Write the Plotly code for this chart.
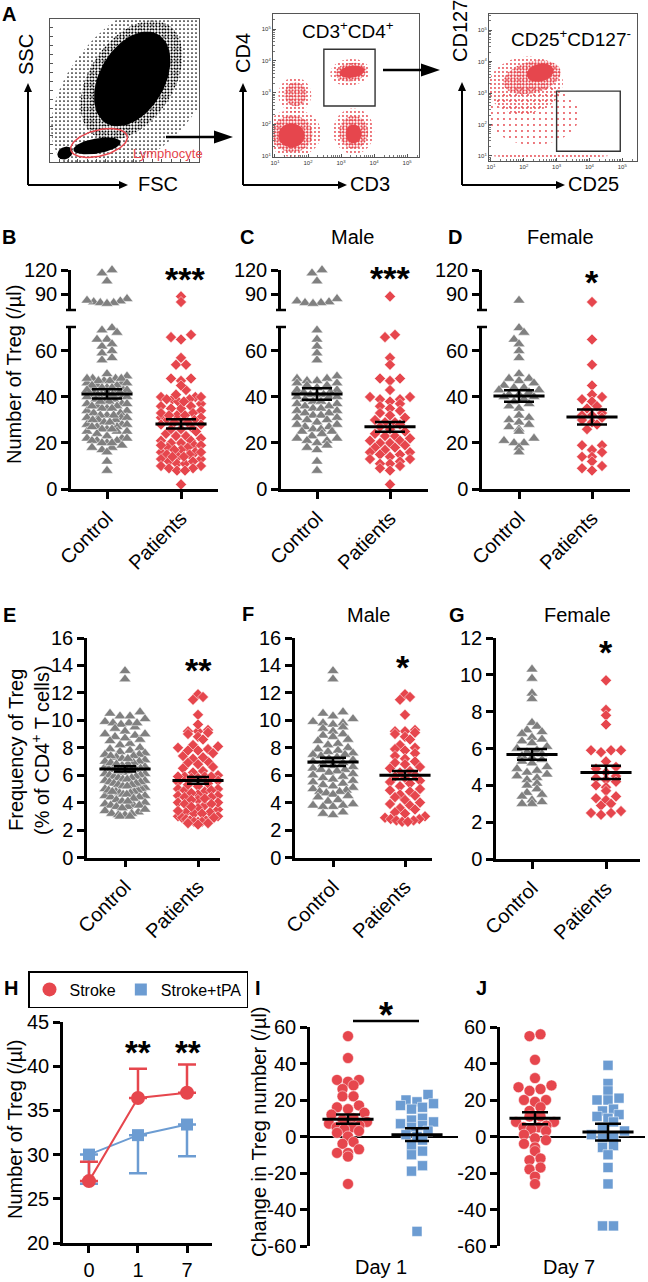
import math
import plotly.graph_objects as go

W, H = 648, 1282
FONT = "Liberation Sans, Arial, Helvetica, sans-serif"
RED = "#E6464D"
GRAY = "#808080"
BLUE = "#6C9CD2"

# ------------------------------------------------------------------ data
groups = ["Control", "Patients"]

# Number of Treg (/µl) - male
treg_male_control = [120, 116, 106, 84, 81, 80, 79, 79, 78,
                     69, 65, 62, 59, 56,
                     49, 48, 48, 47, 47, 46, 46, 45, 45, 44,
                     43, 43, 42, 42, 41, 41, 41, 40, 40, 40, 39,
                     38, 38, 37, 37, 36, 36, 35, 35, 34, 34,
                     33, 33, 32, 32, 31, 31, 30, 30, 29,
                     28, 28, 27, 27, 26, 26, 25, 25, 24,
                     23, 22, 22, 21, 21, 20, 19, 18, 17, 12, 8]
treg_male_patients = [87, 67, 66, 57, 54, 48, 48, 47, 43,
                      40, 40, 39, 39, 38, 37, 36, 35, 34, 33,
                      32, 31, 30, 29, 29, 28, 27, 26, 25, 24,
                      23, 23, 22, 21, 21, 20, 20, 19, 18, 18,
                      17, 16, 16, 15, 15, 14, 13, 13, 12, 11, 11, 10, 9, 8, 2]
# Number of Treg (/µl) - female
treg_female_control = [82, 70, 68, 65, 63, 60, 57, 50, 48, 48, 47, 46, 45, 44, 44,
                       43, 43, 42, 41, 41, 40, 40, 39, 38, 37, 36, 35, 32, 31, 30,
                       29, 28, 27, 26, 25, 22, 21, 20, 20, 18, 16]
treg_female_patients = [80, 65, 54, 45, 41, 40, 39, 38, 36, 35, 33, 32, 32, 31,
                        30, 29, 28, 26, 19, 19, 17, 16, 14, 14, 12, 10, 9, 8]
treg_all_control = treg_male_control + treg_female_control
treg_all_patients = treg_male_patients + treg_female_patients

treg_all_mean, treg_all_sem = [41.3, 28.3], [2.0, 2.0]
treg_male_mean, treg_male_sem = [41.3, 27.0], [2.5, 2.1]
treg_female_mean, treg_female_sem = [40.4, 31.3], [2.5, 3.3]

# Frequency of Treg (% of CD4+ T cells)
freq_male_control = [13.6, 13.0,
                     10.6, 10.5, 10.3, 10.1, 9.9, 9.8, 9.8, 9.7, 9.5, 9.4,
                     9.2, 9.0, 8.9, 8.8, 8.6, 8.5, 8.3, 8.2, 8.0, 7.9,
                     7.8, 7.7, 7.6, 7.5, 7.5, 7.4, 7.3, 7.2, 7.1, 7.0,
                     6.9, 6.8, 6.7, 6.6, 6.5, 6.4, 6.4, 6.3, 6.2, 6.1,
                     6.0, 5.9, 5.8, 5.7, 5.6, 5.5, 5.4, 5.3, 5.2, 5.1,
                     5.0, 4.9, 4.8, 4.8, 4.7, 4.6, 4.5, 4.4, 4.2, 4.1,
                     3.9, 3.8, 3.8, 3.7, 3.7, 3.3, 3.2, 3.1]
freq_male_patients = [11.9, 11.7, 11.5, 10.4,
                      9.3, 9.2, 9.2, 9.1, 9.0, 8.8,
                      8.6, 8.2, 8.0, 7.9, 7.8, 7.6, 7.4, 7.2, 7.0, 6.9,
                      6.8, 6.6, 6.5, 6.3, 6.2, 6.0, 5.9, 5.8, 5.6, 5.5,
                      5.4, 5.2, 5.0, 4.9, 4.8, 4.6, 4.5, 4.4, 4.2, 4.0,
                      3.9, 3.8, 3.6, 3.5, 3.3, 3.2, 3.0, 2.9, 2.8, 2.8, 2.7, 2.7, 2.6, 2.6]
freq_female_control = [10.3, 9.8, 9.0, 8.7, 7.4, 7.2, 7.0, 6.9, 6.8, 6.6, 6.5, 6.4, 6.3, 6.1,
                       6.0, 5.9, 5.8, 5.7, 5.6, 5.5, 5.4, 5.3, 5.2, 5.0, 4.9, 4.8, 4.7, 4.6,
                       4.5, 4.4, 4.3, 4.1, 4.0, 3.8, 3.6, 3.5, 3.4, 3.2, 3.1, 3.0, 3.0]
freq_female_patients = [9.7, 8.1, 7.8, 7.3, 5.9, 5.9, 5.9, 5.8, 5.3, 5.0, 4.9, 4.7, 4.5, 4.4,
                        4.3, 4.2, 4.0, 3.9, 3.7, 3.4, 3.3, 3.2, 3.0, 2.9, 2.6, 2.5, 2.5, 2.4]
freq_all_control = freq_male_control + freq_female_control
freq_all_patients = freq_male_patients + freq_female_patients

freq_all_mean, freq_all_sem = [6.46, 5.62], [0.2, 0.25]
freq_male_mean, freq_male_sem = [6.97, 6.0], [0.3, 0.3]
freq_female_mean, freq_female_sem = [5.68, 4.7], [0.29, 0.36]

# H: time course
days = ["0", "1", "7"]
stroke_mean = [27.0, 36.4, 37.0]
stroke_sem = [2.2, 3.3, 3.2]
tpa_mean = [30.0, 32.2, 33.4]
tpa_sem = [3.3, 4.3, 3.6]

# I, J: change in Treg number
day1_stroke = [55, 43, 31, 31, 30, 28, 26, 22, 22, 17, 16, 15, 13, 12, 10, 9, 8, 7, 6,
               5, 5, 4, 3, 2, 0, -3, -4, -7, -9, -9, -11, -26]
day1_tpa = [23, 20, 19, 18, 17, 16, 15, 10, 9, 8, 7, 6, 5, 3, 1, 0, -2, -5, -8, -10,
            -16, -19, -52]
day7_stroke = [56, 55, 42, 32, 28, 27, 26, 25, 20, 20, 19, 16, 14, 11, 11, 8, 8, 6, 5, 5,
               4, 3, 1, -1, -2, -4, -6, -8, -12, -13, -17, -18, -22, -26]
day7_tpa = [39, 29, 25, 21, 20, 20, 15, 14, 12, 11, 10, 8, 5, 3, 1, 0, -1, -5, -6, -10,
            -17, -26, -49, -49]
day1_mean, day1_sem = [9.5, 1.0], [2.5, 3.5]
day7_mean, day7_sem = [10.0, 2.4], [3.3, 4.6]

# A: gating populations (centre x, centre y, semi-axis a, semi-axis b, angle, density)
fsc_ssc_pops = [
    (590, 545, 740, 440, 50, "sparse"),
    (560, 585, 470, 290, 58, "medium"),
    (565, 595, 365, 225, 62, "dense"),
    (323, 115, 165, 54, 10, "dense"),
    (103, 64, 55, 43, 30, "dense"),
]
lymph_gate = (337, 136, 200, 93, 15)
cd3_cd4_pops = [
    (3.27, 3.64, 0.60, 0.42, 8, "sparse"),
    (3.30, 3.65, 0.48, 0.29, 8, "medium"),
    (3.33, 3.66, 0.38, 0.19, 8, "dense"),
    (1.60, 2.93, 0.50, 0.55, 0, "sparse"),
    (1.62, 2.95, 0.34, 0.38, 0, "medium"),
    (1.55, 1.72, 0.85, 0.75, 0, "sparse"),
    (1.52, 1.70, 0.62, 0.58, 0, "medium"),
    (1.50, 1.65, 0.40, 0.38, 0, "dense"),
    (3.38, 1.78, 0.62, 0.72, 0, "sparse"),
    (3.38, 1.75, 0.44, 0.52, 0, "medium"),
    (3.38, 1.70, 0.24, 0.30, 0, "dense"),
]
cd3_cd4_gate = (2.48, 4.03, 2.58, 4.37)
cd25_cd127_pops = [
    (2.30, 2.30, 1.40, 0.95, 0, "vsparse"),
    (2.80, 1.00, 1.80, 0.06, 0, "sparse"),
    (2.05, 3.25, 1.15, 0.90, 10, "sparse"),
    (2.25, 3.50, 0.90, 0.50, 15, "medium"),
    (2.50, 3.65, 0.42, 0.28, 15, "dense"),
]
cd25_cd127_gate = (3.0, 4.94, 1.15, 3.06)

# ------------------------------------------------------------------ helpers
traces, annotations, shapes = [], [], []
layout = dict(width=W, height=H, margin=dict(l=0, r=0, t=0, b=0), template="none",
              paper_bgcolor="white", plot_bgcolor="rgba(0,0,0,0)",
              font=dict(family=FONT, size=20, color="black"), showlegend=True)
axis_ids = []


def add_axes(xd, yd, xr, yr, xkw=None, ykw=None):
    k = len(axis_ids) + 1
    s = "" if k == 1 else str(k)
    base = dict(showgrid=False, zeroline=False, showline=False, ticks="",
                showticklabels=False, fixedrange=True, automargin=False)
    xa = dict(base, domain=[xd[0] / W, xd[1] / W], range=list(xr), anchor="y" + s)
    ya = dict(base, domain=[1 - yd[1] / H, 1 - yd[0] / H], range=list(yr), anchor="x" + s)
    if xkw:
        xa.update(xkw)
    if ykw:
        ya.update(ykw)
    layout["xaxis" + s] = xa
    layout["yaxis" + s] = ya
    axis_ids.append(k)
    return "x" + s, "y" + s


LINE_AX = dict(showline=True, linecolor="black", linewidth=2.5, ticks="outside", ticklen=7,
               tickwidth=2.5, tickcolor="black", showticklabels=True,
               tickfont=dict(size=20, color="black", family=FONT))


def text(x, y, s, size=20, bold=False, color="black", angle=0, xanchor="center"):
    annotations.append(dict(x=x / W, y=1 - y / H, xref="paper", yref="paper",
                            text=("<b>%s</b>" % s) if bold else s, showarrow=False,
                            font=dict(size=size, color=color, family=FONT),
                            textangle=angle, xanchor=xanchor, yanchor="middle"))


def stars(x, y, s, size=34):
    text(x, y + 0.2 * size, s, size=size, bold=True)


def pline(x0, y0, x1, y1, w=2.5, color="black"):
    shapes.append(dict(type="line", xref="paper", yref="paper", x0=x0 / W, y0=1 - y0 / H,
                       x1=x1 / W, y1=1 - y1 / H, line=dict(color=color, width=w)))


def arrow(x0, y0, x1, y1, lw, hl, hw):
    L = math.hypot(x1 - x0, y1 - y0)
    ux, uy = (x1 - x0) / L, (y1 - y0) / L
    bx, by = x1 - ux * hl, y1 - uy * hl
    pline(x0, y0, bx + ux, by + uy, lw)
    nx, ny = -uy, ux
    pts = [(x1, y1), (bx + nx * hw / 2, by + ny * hw / 2), (bx - nx * hw / 2, by - ny * hw / 2)]
    path = "M " + " L ".join("%.5f,%.5f" % (px / W, 1 - py / H) for px, py in pts) + " Z"
    shapes.append(dict(type="path", xref="paper", yref="paper", path=path,
                       fillcolor="black", line=dict(width=0)))


def ellipse_xy(cx, cy, a, b, ang, n=90):
    t = math.radians(ang)
    xs, ys = [], []
    for i in range(n + 1):
        u = 2 * math.pi * i / n
        ex, ey = a * math.cos(u), b * math.sin(u)
        xs.append(cx + ex * math.cos(t) - ey * math.sin(t))
        ys.append(cy + ex * math.sin(t) + ey * math.cos(t))
    return xs, ys


DENS_BLACK = {"vsparse": (6, 0.07), "sparse": (4, 0.14), "medium": (3, 0.32)}
DENS_RED = {"vsparse": (6, 0.08), "sparse": (4, 0.18), "medium": (3, 0.45)}


def population(p, color, xa, ya, dens):
    cx, cy, a, b, ang, lev = p
    xs, ys = ellipse_xy(cx, cy, a, b, ang)
    kw = dict(x=xs, y=ys, xaxis=xa, yaxis=ya, mode="lines", fill="toself",
              line=dict(width=0), showlegend=False, hoverinfo="skip")
    if lev == "dense":
        kw["fillcolor"] = color
    else:
        sz, sol = dens[lev]
        kw["fillcolor"] = "rgba(0,0,0,0)"
        kw["fillpattern"] = dict(shape=".", fgcolor=color, bgcolor="rgba(0,0,0,0)",
                                 size=sz, solidity=sol)
    traces.append(go.Scatter(**kw))


def swarm(values, to_px, row_h, step, max_half):
    order = sorted(range(len(values)), key=lambda i: values[i])
    rows = {}
    for i in order:
        rows.setdefault(int(round(to_px(values[i]) / row_h)), []).append(i)
    offs = [0.0] * len(values)
    for idxs in rows.values():
        n = len(idxs)
        sp = step if n <= 1 or (n - 1) * step <= 2 * max_half else 2 * max_half / (n - 1)
        slots = [(k - (n - 1) / 2) * sp for k in range(n)]
        slots.sort(key=lambda s: (abs(s), s))
        for k, i in enumerate(idxs):
            offs[i] = slots[k]
    return offs


def dot_panel(xl, xr_px, c0, c1, segs, ctrl, pat, mean, sem, syms, sizes, colors,
              show_x=True, zero=False, row_h=7, step=10, max_half=20, cap=13):
    ppx = float(c1 - c0)
    xrange = [(xl - c0) / ppx, (xr_px - c0) / ppx]
    seg_axes = []
    for j, sg in enumerate(segs):
        xkw = None
        if j == 0 and show_x:
            xkw = dict(LINE_AX, tickvals=[0, 1], ticktext=groups, tickangle=-45)
        ykw = dict(LINE_AX, tickvals=sg["tv"], ticktext=[str(v) for v in sg["tv"]])
        if zero:
            ykw.update(zeroline=True, zerolinecolor="black", zerolinewidth=2.2)
        seg_axes.append(add_axes((xl, xr_px), (sg["top"], sg["bot"]), xrange, sg["rng"], xkw, ykw))

    def seg_of(v):
        for j, sg in enumerate(segs):
            if v <= sg["rng"][1]:
                return j
        return len(segs) - 1

    def to_px(v):
        sg = segs[seg_of(v)]
        lo, hi = sg["rng"]
        return sg["bot"] - (v - lo) / (hi - lo) * (sg["bot"] - sg["top"])

    for gi, vals in enumerate([ctrl, pat]):
        offs = swarm(vals, to_px, row_h, step, max_half)
        for j in range(len(segs)):
            idx = [i for i, v in enumerate(vals) if seg_of(v) == j]
            if not idx:
                continue
            traces.append(go.Scatter(
                x=[gi + offs[i] / ppx for i in idx], y=[vals[i] for i in idx],
                xaxis=seg_axes[j][0], yaxis=seg_axes[j][1], mode="markers",
                marker=dict(symbol=syms[gi], size=sizes[gi], color=colors[gi],
                            line=dict(width=0.5, color="white")),
                cliponaxis=False, showlegend=False, hoverinfo="skip"))
    xa, ya = seg_axes[0]
    traces.append(go.Scatter(
        x=[0, 1], y=mean, xaxis=xa, yaxis=ya, mode="markers",
        marker=dict(symbol="line-ew", size=36.5, color="black", line=dict(width=3, color="black")),
        error_y=dict(type="data", array=sem, visible=True, color="black", thickness=2.5, width=cap),
        cliponaxis=False, showlegend=False, hoverinfo="skip"))
    return seg_axes


# ------------------------------------------------------------------ panel A
BOX = dict(showline=True, mirror=True, linecolor="#555", linewidth=1, ticks="inside",
           ticklen=3, tickwidth=1, tickcolor="#555")
xa, ya = add_axes((50, 199), (19, 162), [0, 1024], [0, 1024],
                  dict(BOX, dtick=64, tick0=0), dict(BOX, dtick=64, tick0=0))
for p in fsc_ssc_pops:
    population(p, "black", xa, ya, DENS_BLACK)
gx, gy = ellipse_xy(*lymph_gate)
traces.append(go.Scatter(x=gx, y=gy, xaxis=xa, yaxis=ya, mode="lines",
                         line=dict(color=RED, width=1.5), showlegend=False, hoverinfo="skip"))


def log_axis(lo, hi):
    majors = [v for v in range(1, 6) if lo <= v <= hi]
    minors = [n + math.log10(k) for n in range(0, 6) for k in range(2, 10)
              if lo <= n + math.log10(k) <= hi]
    return dict(BOX, tickvals=majors, ticktext=["10<sup>%d</sup>" % v for v in majors],
                showticklabels=True, tickfont=dict(size=6, color="#333"),
                minor=dict(tickvals=minors, ticks="inside", ticklen=2, tickcolor="#777",
                           tickwidth=0.8))


xa, ya = add_axes((273, 419), (14, 157), [0.94, 5.36], [0.97, 5.48],
                  log_axis(0.94, 5.36), log_axis(0.97, 5.48))
for p in cd3_cd4_pops:
    population(p, RED, xa, ya, DENS_RED)
g = cd3_cd4_gate
shapes.append(dict(type="rect", xref=xa, yref=ya, x0=g[0], x1=g[1], y0=g[2], y1=g[3],
                   line=dict(color="#333", width=1.4)))

xa, ya = add_axes((489, 637), (14, 161), [0.94, 5.45], [0.84, 5.51],
                  log_axis(0.94, 5.45), log_axis(0.84, 5.51))
for p in cd25_cd127_pops:
    population(p, RED, xa, ya, DENS_RED)
g = cd25_cd127_gate
shapes.append(dict(type="rect", xref=xa, yref=ya, x0=g[0], x1=g[1], y0=g[2], y1=g[3],
                   line=dict(color="#333", width=1.4)))

arrow(166, 137, 233, 137, 2.5, 19, 13)
arrow(383, 70, 440, 70, 2.5, 19, 13)
for (vx, tipy, tipx) in [(28, 83, 128), (243, 83, 347), (462, 82, 565)]:
    arrow(vx, 185, vx, tipy, 2, 9, 8)
    arrow(vx, 185, tipx, 185, 2, 9, 8)

text(9, 14, "A", 20, bold=True)
text(26, 55, "SSC", 20, angle=-90)
text(158, 184, "FSC", 20)
text(131, 153, "Lymphocyte", 13, color=RED, xanchor="left")
text(243, 53, "CD4", 20, angle=-90)
text(370, 184, "CD3", 20)
text(348, 30, "CD3<sup>+</sup>CD4<sup>+</sup>", 19)
text(460, 31, "CD127", 20, angle=-90)
text(593, 184, "CD25", 20)
text(571, 38, "CD25<sup>+</sup>CD127<sup>-</sup>", 19)

# ------------------------------------------------------------------ panels B-D
SYMS = ["triangle-up", "diamond"]
SIZES = [10.5, 8.5]
COLS = [GRAY, RED]


def broken(top_u, bot_u, top_l, bot_l):
    return [dict(top=top_l, bot=bot_l, rng=(0, 70.4), tv=[0, 20, 40, 60]),
            dict(top=top_u, bot=bot_u, rng=(70, 120), tv=[90, 120])]


for (xl, xr_px, c0, c1, ctrl, pat, mean, sem) in [
        (71, 218, 107, 181, treg_all_control, treg_all_patients, treg_all_mean, treg_all_sem),
        (281, 428, 317, 390, treg_male_control, treg_male_patients, treg_male_mean, treg_male_sem),
        (482, 630, 519, 592, treg_female_control, treg_female_patients, treg_female_mean,
         treg_female_sem)]:
    dot_panel(xl, xr_px, c0, c1, broken(270, 310, 327, 489), ctrl, pat, mean, sem,
              SYMS, SIZES, COLS, cap=15)
    pline(xl - 5, 310, xl + 5, 310, 2.5)
    pline(xl - 5, 327, xl + 5, 327, 2.5)

text(9, 237, "B", 20, bold=True)
text(247, 237, "C", 20, bold=True)
text(352, 237, "Male", 20)
text(455, 237, "D", 20, bold=True)
text(560, 237, "Female", 20)
stars(185, 272, "***")
stars(390, 271, "***")
stars(592, 275, "*")
text(14, 375, "Number of Treg (/µl)", 20, angle=-90)

# ------------------------------------------------------------------ panels E-G
seg16 = [dict(top=638, bot=857.5, rng=(0, 16), tv=list(range(0, 17, 2)))]
seg12 = [dict(top=638, bot=859, rng=(0, 12), tv=list(range(0, 13, 2)))]
dot_panel(87, 220, 125, 198, seg16, freq_all_control, freq_all_patients,
          freq_all_mean, freq_all_sem, SYMS, SIZES, COLS, cap=11)
dot_panel(295, 432, 333, 405, seg16, freq_male_control, freq_male_patients,
          freq_male_mean, freq_male_sem, SYMS, SIZES, COLS, cap=13)
dot_panel(496, 640, 532, 606, seg12, freq_female_control, freq_female_patients,
          freq_female_mean, freq_female_sem, SYMS, SIZES, COLS, cap=15)

text(9, 615, "E", 20, bold=True)
text(248, 614, "F", 20, bold=True)
text(368, 615, "Male", 20)
text(457, 615, "G", 20, bold=True)
text(577, 615, "Female", 20)
stars(198, 663, "**")
stars(403, 660, "*")
stars(606, 645, "*")
text(16, 750, "Frequency of Treg", 20, angle=-90)
text(40, 750, "(% of CD4<sup>+</sup> T cells)", 20, angle=-90)

# ------------------------------------------------------------------ panel H
xa, ya = add_axes((63, 212), (1022, 1243), [-0.53, 2.51], [20, 45],
                  dict(LINE_AX, type="category", categoryorder="array", categoryarray=days),
                  dict(LINE_AX, tickvals=[20, 25, 30, 35, 40, 45],
                       ticktext=["20", "25", "30", "35", "40", "45"]))
traces.append(go.Scatter(x=days, y=tpa_mean, xaxis=xa, yaxis=ya, mode="lines",
                         line=dict(color=BLUE, width=2), showlegend=False, hoverinfo="skip"))
traces.append(go.Scatter(x=days, y=tpa_mean, xaxis=xa, yaxis=ya, mode="markers",
                         name="Stroke+tPA", legendrank=2,
                         marker=dict(symbol="square", size=12, color=BLUE),
                         error_y=dict(type="data", symmetric=False, array=[0, 0, 0],
                                      arrayminus=tpa_sem, color=BLUE, thickness=2.5, width=9),
                         cliponaxis=False, hoverinfo="skip"))
traces.append(go.Scatter(x=days, y=stroke_mean, xaxis=xa, yaxis=ya, mode="lines",
                         line=dict(color=RED, width=2), showlegend=False, hoverinfo="skip"))
traces.append(go.Scatter(x=days, y=stroke_mean, xaxis=xa, yaxis=ya, mode="markers",
                         name="Stroke", legendrank=1,
                         marker=dict(symbol="circle", size=14, color=RED),
                         error_y=dict(type="data", symmetric=False, array=stroke_sem,
                                      arrayminus=[0, 0, 0], color=RED, thickness=2.5, width=9),
                         cliponaxis=False, hoverinfo="skip"))
layout["legend"] = dict(x=28 / W, y=1 - 971 / H, xanchor="left", yanchor="top",
                        orientation="h", bordercolor="black", borderwidth=1.5,
                        bgcolor="white", font=dict(size=16, family=FONT, color="black"),
                        traceorder="normal", itemwidth=30, tracegroupgap=0)
text(11, 988, "H", 20, bold=True)
stars(138, 1046, "**", 33)
stars(188, 1046, "**", 33)
text(15, 1130, "Number of Treg (/µl)", 20, angle=-90)

# ------------------------------------------------------------------ panels I, J
segIJ = [dict(top=1027, bot=1246, rng=(-60, 60), tv=[-60, -40, -20, 0, 20, 40, 60])]
dot_panel(310, 458, 348, 417, segIJ, day1_stroke, day1_tpa, day1_mean, day1_sem,
          ["circle", "square"], [11, 10], [RED, BLUE], show_x=False, zero=True,
          row_h=9, step=11, max_half=19, cap=12)
dot_panel(500, 645, 535, 608, segIJ, day7_stroke, day7_tpa, day7_mean, day7_sem,
          ["circle", "square"], [11, 10], [RED, BLUE], show_x=False, zero=True,
          row_h=9, step=11, max_half=19, cap=13)
text(258, 988, "I", 20, bold=True)
text(481, 988, "J", 20, bold=True)
pline(353, 1021, 419, 1021, 2.5)
stars(386, 1008, "*", 36)
text(259, 1132, "Change in Treg number (/µl)", 20, angle=-90)
text(381, 1267, "Day 1", 20)
text(569, 1267, "Day 7", 20)

layout["annotations"] = annotations
layout["shapes"] = shapes
fig = go.Figure(data=traces, layout=layout)
fig.write_html("out.html", config={"displayModeBar": False},
               post_script="document.body.style.margin='0';document.body.style.padding='0';"
                           "document.body.style.overflow='hidden';")
